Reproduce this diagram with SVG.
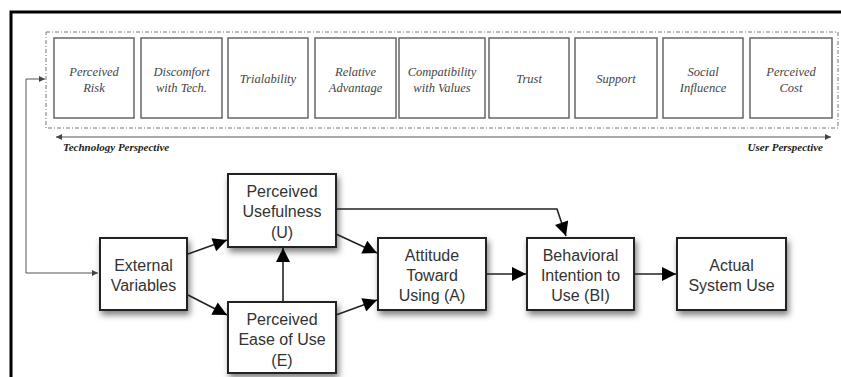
<svg xmlns="http://www.w3.org/2000/svg" width="841" height="377" viewBox="0 0 841 377">
<style>
.tb{fill:#fff;stroke:#666;stroke-width:1.5}
.tt{font-family:"Liberation Serif","DejaVu Serif","Times New Roman",serif;font-style:italic;font-size:12.5px;fill:#444;text-anchor:middle}
.pt{font-family:"Liberation Serif","DejaVu Serif","Times New Roman",serif;font-style:italic;font-weight:bold;font-size:11px;fill:#222}
.nb{fill:#fff;stroke:#222;stroke-width:2;filter:url(#sh)}
.nt{font-family:"Liberation Sans",Arial,sans-serif;font-size:16px;fill:#333;text-anchor:middle}
.c{fill:none;stroke:#222;stroke-width:1.6}
.f{fill:none;stroke:#555;stroke-width:1}
</style>
<defs>
<filter id="sh" x="-20%" y="-20%" width="150%" height="160%">
<feDropShadow dx="2" dy="4" stdDeviation="3" flood-color="#000" flood-opacity="0.5"/>
</filter>
<marker id="ab" viewBox="0 0 10 10" refX="10" refY="5" markerWidth="16" markerHeight="14" markerUnits="userSpaceOnUse" orient="auto">
<path d="M0,0 L10,5 L0,10 z" fill="#000"/>
</marker>
<marker id="as" viewBox="0 0 10 10" refX="10" refY="5" markerWidth="8" markerHeight="6" markerUnits="userSpaceOnUse" orient="auto-start-reverse">
<path d="M0,0 L10,5 L0,10 z" fill="#444"/>
</marker>
</defs>
<rect width="841" height="377" fill="#fff"/>
<g id="frame">
<path d="M11,377 V12 H841" fill="none" stroke="#000" stroke-width="3"/>
</g>
<g id="perspective-box">
<rect x="46" y="32" width="792" height="96" fill="none" stroke="#777" stroke-width="1" stroke-dasharray="4,2,1,2"/>
</g>
<g id="risk"><rect class="tb" x="54" y="38" width="80" height="80"/><text class="tt" x="94" y="76">Perceived</text><text class="tt" x="94" y="92">Risk</text></g>
<g id="discomfort"><rect class="tb" x="141" y="38" width="81" height="80"/><text class="tt" x="181.5" y="76">Discomfort</text><text class="tt" x="181.5" y="92">with Tech.</text></g>
<g id="trialability"><rect class="tb" x="228" y="38" width="80" height="80"/><text class="tt" x="268" y="83">Trialability</text></g>
<g id="advantage"><rect class="tb" x="315" y="38" width="81" height="80"/><text class="tt" x="355.5" y="76">Relative</text><text class="tt" x="355.5" y="92">Advantage</text></g>
<g id="compatibility"><rect class="tb" x="399" y="38" width="86" height="80"/><text class="tt" x="442" y="76">Compatibility</text><text class="tt" x="442" y="92">with Values</text></g>
<g id="trust"><rect class="tb" x="489" y="38" width="80" height="80"/><text class="tt" x="529" y="83">Trust</text></g>
<g id="support"><rect class="tb" x="575" y="38" width="82" height="80"/><text class="tt" x="616" y="83">Support</text></g>
<g id="social"><rect class="tb" x="663" y="38" width="80" height="80"/><text class="tt" x="703" y="76">Social</text><text class="tt" x="703" y="92">Influence</text></g>
<g id="cost"><rect class="tb" x="750" y="38" width="82" height="80"/><text class="tt" x="791" y="76">Perceived</text><text class="tt" x="791" y="92">Cost</text></g>
<g id="labels">
<text class="pt" x="63" y="151">Technology Perspective</text>
<text class="pt" x="823" y="151" text-anchor="end">User Perspective</text>
</g>
<g id="ext"><rect class="nb" x="100" y="238" width="87" height="72"/><text class="nt" x="143.5" y="271">External</text><text class="nt" x="143.5" y="291">Variables</text></g>
<g id="pu"><rect class="nb" x="228" y="174" width="108" height="73"/><text class="nt" x="282" y="197">Perceived</text><text class="nt" x="282" y="217">Usefulness</text><text class="nt" x="282" y="238">(U)</text></g>
<g id="peou"><rect class="nb" x="228" y="302" width="108" height="71"/><text class="nt" x="282" y="325">Perceived</text><text class="nt" x="282" y="345">Ease of Use</text><text class="nt" x="282" y="366">(E)</text></g>
<g id="att"><rect class="nb" x="378" y="238" width="108" height="72"/><text class="nt" x="432" y="261">Attitude</text><text class="nt" x="432" y="281">Toward</text><text class="nt" x="432" y="301">Using (A)</text></g>
<g id="bi"><rect class="nb" x="527" y="238" width="107" height="72"/><text class="nt" x="580.5" y="261">Behavioral</text><text class="nt" x="580.5" y="281">Intention to</text><text class="nt" x="580.5" y="301">Use (BI)</text></g>
<g id="asu"><rect class="nb" x="677" y="238" width="109" height="72"/><text class="nt" x="731.5" y="271">Actual</text><text class="nt" x="731.5" y="291">System Use</text></g>
<g id="connectors">
<line class="f" x1="56" y1="137" x2="831" y2="137" marker-start="url(#as)" marker-end="url(#as)"/>
<path class="f" d="M98,273 H26 V79 H45" marker-start="url(#as)" marker-end="url(#as)"/>
<line class="c" x1="188" y1="254" x2="227" y2="240" marker-end="url(#ab)"/>
<line class="c" x1="188" y1="295" x2="227" y2="315" marker-end="url(#ab)"/>
<line class="c" x1="283" y1="302" x2="283" y2="248" marker-end="url(#ab)"/>
<line class="c" x1="336" y1="234" x2="377" y2="253" marker-end="url(#ab)"/>
<line class="c" x1="336" y1="315" x2="377" y2="300" marker-end="url(#ab)"/>
<line class="c" x1="486" y1="274" x2="526" y2="274" marker-end="url(#ab)"/>
<line class="c" x1="634" y1="274" x2="676" y2="274" marker-end="url(#ab)"/>
<path class="c" d="M336,209 H557 L566,236" marker-end="url(#ab)"/>
</g>
</svg>
